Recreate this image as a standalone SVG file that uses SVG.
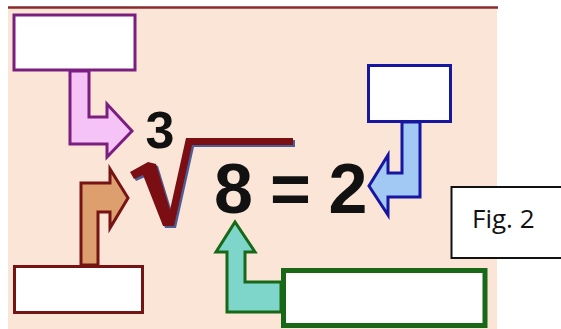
<svg xmlns="http://www.w3.org/2000/svg" width="561" height="329" viewBox="0 0 561 329">
  <style>
    .box { fill: #ffffff; }
    .math { font-family: "Liberation Sans", Arial, sans-serif; font-weight: bold; fill: #111111; }
    .lbl { font-family: "Open Sans", "Liberation Sans", sans-serif; fill: #111111; }
    .arr { stroke-width: 3; stroke-linejoin: miter; }
  </style>
  <rect x="0" y="0" width="561" height="329" fill="#ffffff"/>
  <rect id="background" x="8" y="7" width="489" height="322" fill="#FBE5D7"/>
  <line x1="8" y1="7.5" x2="498" y2="7.5" stroke="#8A2A2A" stroke-width="2.5"/>

  <g id="radical">
    <polygon points="132,174 150,164 158,166 172,212 188,140 295,140 295,147 194,147 176,228 165,228 145,177 136,181" fill="#4C5C96"/>
    <polygon points="130,172 148,162 156,164 170,210 186,138 293,138 293,145 192,145 174,226 163,226 143,175 134,179" fill="#7A0E12"/>
  </g>
  <g id="index3"><text class="math" x="160" y="148" font-size="52" text-anchor="middle">3</text></g>
  <g id="equation">
    <text class="math" font-size="70" y="213"><tspan x="233.5" text-anchor="middle">8</tspan><tspan x="290.5" text-anchor="middle">=</tspan><tspan x="348" text-anchor="middle">2</tspan></text>
  </g>

  <g id="connectors">
    <polygon class="arr" points="70,71 89,71 89,117 107,117 107,104 132,131 107,157 107,144 70,144" fill="#F6C3F6" stroke="#7A1E80"/>
    <polygon class="arr" points="81,265 81,183 110,183 110,169 128,198 110,228 110,212 98,212 98,265" fill="#DE9F6E" stroke="#761414"/>
    <polygon class="arr" points="420,122 420,197 388,197 388,215 369,186 388,155 388,173 402,173 402,122" fill="#A2C9F4" stroke="#1616A0"/>
    <polygon class="arr" points="227,312 227,252 216,252 235,222 255,252 245,252 245,282 281,282 281,312" fill="#7ED6CA" stroke="#186818"/>
  </g>

  <g id="box-index"><rect class="box" x="14" y="15" width="121" height="55" stroke="#7A1E80" stroke-width="3"/></g>
  <g id="box-radical"><rect class="box" x="14.5" y="266.5" width="128" height="46" stroke="#761414" stroke-width="3"/></g>
  <g id="box-root"><rect class="box" x="368.5" y="65.5" width="82" height="56" stroke="#1616A0" stroke-width="3"/></g>
  <g id="box-radicand"><rect class="box" x="283.5" y="270.5" width="201.5" height="55" stroke="#186818" stroke-width="5"/></g>

  <g id="fig-label">
    <rect x="451.5" y="187" width="112" height="71" fill="#ffffff" stroke="#111111" stroke-width="2"/>
    <text class="lbl" x="472" y="228" font-size="26">Fig. 2</text>
  </g>
</svg>
